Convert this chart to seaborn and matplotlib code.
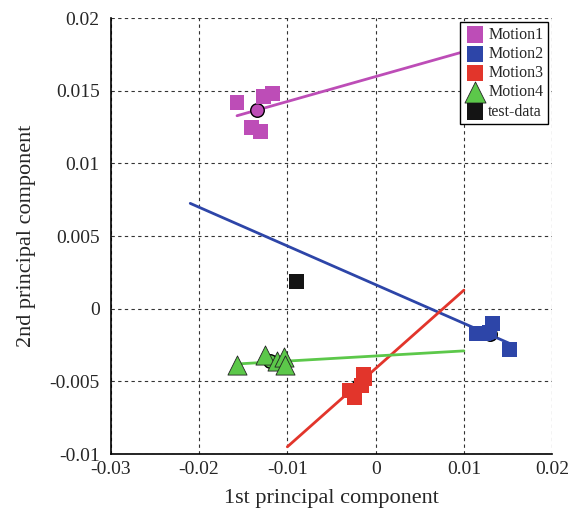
import numpy as np
import pandas as pd
import matplotlib
matplotlib.use("Agg")
import matplotlib.pyplot as plt
import seaborn as sns

# PCA scores per motion class
motion1_x = [-0.0157, -0.0127, -0.0117, -0.0141, -0.0130]
motion1_y = [0.0142, 0.0146, 0.0148, 0.0125, 0.0122]
motion2_x = [0.0114, 0.0122, 0.0129, 0.0132, 0.0152]
motion2_y = [-0.0017, -0.0017, -0.0016, -0.0010, -0.0028]
motion3_x = [-0.0014, -0.0016, -0.0030, -0.0024, -0.0012]
motion3_y = [-0.0045, -0.0053, -0.0056, -0.0061, -0.0048]
motion4_x = [-0.0157, -0.0125, -0.0112, -0.0104, -0.0103]
motion4_y = [-0.0039, -0.0032, -0.0036, -0.0033, -0.0039]
test_x = [-0.0090]
test_y = [0.0019]

# fitted lines (end points)
line1_x = [-0.0157, 0.0100]
line1_y = [0.01328, 0.01769]
line2_x = [-0.0210, 0.0156]
line2_y = [0.00725, -0.00250]
line3_x = [-0.0100, 0.0100]
line3_y = [-0.0095, 0.00128]
line4_x = [-0.0157, 0.0100]
line4_y = [-0.0038, -0.0029]

labels = ["Motion1", "Motion2", "Motion3", "Motion4"]
colors = ["#BD4DB7", "#2D45A8", "#E2352B", "#5CC84A"]
markers = ["s", "s", "s", "^"]

xs = [motion1_x, motion2_x, motion3_x, motion4_x]
ys = [motion1_y, motion2_y, motion3_y, motion4_y]
lines = [(line1_x, line1_y), (line2_x, line2_y), (line3_x, line3_y), (line4_x, line4_y)]

sns.set_style("white")
plt.rcParams["font.family"] = ["Liberation Serif", "DejaVu Serif"]

fig = plt.figure(figsize=(5.74, 5.16), dpi=100)
ax = fig.add_axes([0.193, 0.120, 0.769, 0.845])

for (lx, ly), c in zip(lines, colors):
    sns.lineplot(x=lx, y=ly, color=c, linewidth=2.0, ax=ax, zorder=2)

# class means
for x, y, c in zip(xs, ys, colors):
    ax.scatter([np.mean(x)], [np.mean(y)], s=95, c=c, edgecolors="black",
               linewidths=1.0, zorder=3)

for x, y, c, m, lab in zip(xs, ys, colors, markers, labels):
    df = pd.DataFrame({"x": x, "y": y})
    size = 190 if m == "^" else 115
    edge = "#222222" if m == "^" else "none"
    sns.scatterplot(data=df, x="x", y="y", marker=m, s=size, color=c,
                    edgecolor=edge, linewidth=0.6, ax=ax, zorder=4, label=lab)
sns.scatterplot(x=test_x, y=test_y, marker="s", s=115, color="#141414",
                edgecolor="none", ax=ax, zorder=4, label="test-data")

ax.set_xlim(-0.03, 0.02)
ax.set_ylim(-0.01, 0.02)
ax.set_xticks([-0.03, -0.02, -0.01, 0, 0.01, 0.02])
ax.set_xticklabels(["-0.03", "-0.02", "-0.01", "0", "0.01", "0.02"])
ax.set_yticks([-0.01, -0.005, 0, 0.005, 0.01, 0.015, 0.02])
ax.set_yticklabels(["-0.01", "-0.005", "0", "0.005", "0.01", "0.015", "0.02"])
ax.tick_params(length=0, labelsize=14)
ax.tick_params(axis="x", pad=5)
ax.tick_params(axis="y", pad=8)
ax.grid(True, color="#333333", linestyle=(0, (3, 3)), linewidth=0.8)
ax.set_axisbelow(True)
for side in ["top", "right"]:
    ax.spines[side].set_visible(False)
for side in ["left", "bottom"]:
    ax.spines[side].set_color("black")
    ax.spines[side].set_linewidth(1.2)

ax.set_xlabel("1st principal component", fontsize=16, labelpad=8)
ax.set_ylabel("2nd principal component", fontsize=16, labelpad=10)

leg = ax.legend(loc="upper right", fontsize=11.5, frameon=True, fancybox=False,
                framealpha=1, edgecolor="black", borderaxespad=0.25,
                handletextpad=0.2, labelspacing=0.2, borderpad=0.3,
                handlelength=1.3, markerscale=1.1)
leg.get_frame().set_linewidth(1.0)
leg.set_zorder(10)

fig.savefig("out.png", dpi=100)
